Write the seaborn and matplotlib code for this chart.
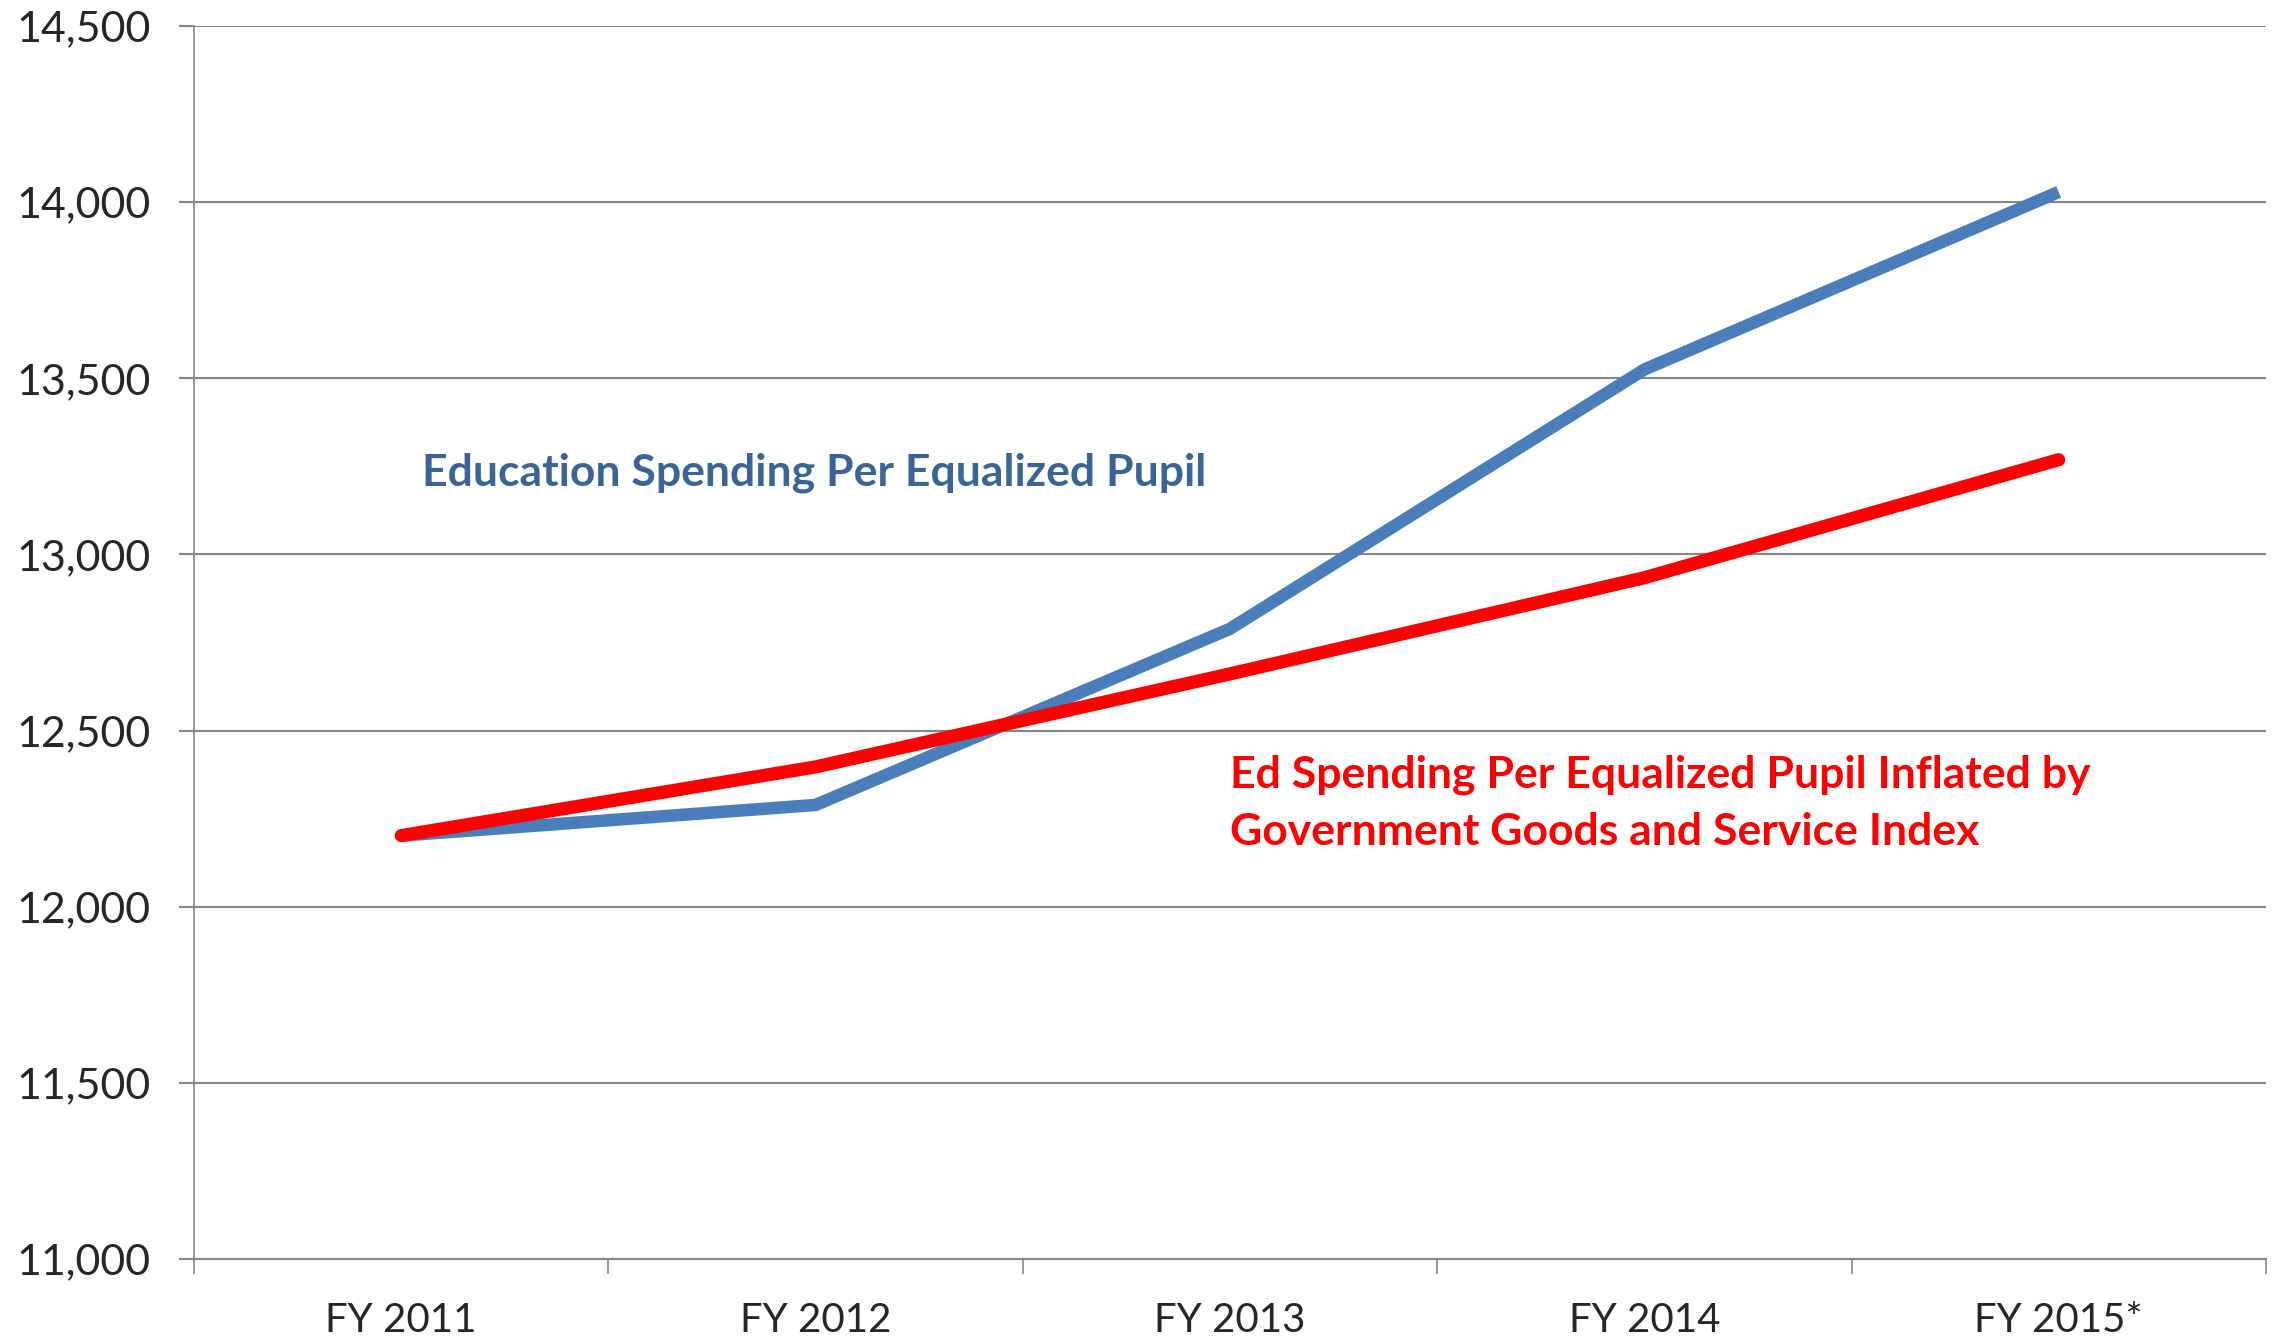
import pandas as pd
import matplotlib.pyplot as plt
import matplotlib.ticker as mticker
import seaborn as sns

years = ["FY 2011", "FY 2012", "FY 2013", "FY 2014", "FY 2015*"]
ed_spending = [12202, 12289, 12789, 13525, 14029]
ed_inflated = [12202, 12397, 12661, 12934, 13269]

y_ticks = [11000, 11500, 12000, 12500, 13000, 13500, 14000, 14500]

blue = "#4A7EBB"
red = "#FF0000"
grid_gray = "#868686"

sns.set_style("white")
plt.rcParams["font.family"] = ["Lato", "DejaVu Sans"]

df = pd.DataFrame({"year": years, "ed": ed_spending, "infl": ed_inflated})

fig = plt.figure(figsize=(22.83, 13.42), dpi=100)
ax = fig.add_axes([0.085, 0.0618, 0.9075, 0.9188])

sns.lineplot(data=df, x="year", y="ed", color=blue, lw=9, ax=ax,
             sort=False, solid_capstyle="butt", solid_joinstyle="miter")
sns.lineplot(data=df, x="year", y="infl", color=red, lw=9.5, ax=ax,
             sort=False, solid_capstyle="round", solid_joinstyle="miter")

ax.set_xlim(-0.5, len(years) - 0.5)
ax.set_ylim(y_ticks[0], y_ticks[-1])
ax.set_yticks(y_ticks)
ax.yaxis.set_major_formatter(mticker.FuncFormatter(lambda v, p: f"{int(v):,}"))
ax.grid(axis="y", color=grid_gray, lw=1.5)
ax.set_axisbelow(True)

# category ticks without marks, boundary marks as minor ticks
ax.set_xticks(range(len(years)))
ax.set_xticklabels(years)
ax.set_xticks([i - 0.5 for i in range(len(years) + 1)], minor=True)
ax.tick_params(axis="x", which="major", length=0, pad=31, labelsize=29)
ax.tick_params(axis="x", which="minor", length=11, width=1.2, color=grid_gray,
               direction="out", bottom=True)
ax.tick_params(axis="y", length=11, width=1.5, color=grid_gray, direction="out",
               left=True, pad=20, labelsize=31)

for s in ["top", "right"]:
    ax.spines[s].set_visible(False)
ax.spines["left"].set_color(grid_gray)
ax.spines["left"].set_linewidth(1.2)
ax.spines["bottom"].set_color(grid_gray)
ax.spines["bottom"].set_linewidth(1.5)
ax.set_xlabel("")
ax.set_ylabel("")

ax.text(0.05, 13231, "Education Spending Per Equalized Pupil", color="#3A6496",
        fontsize=32, fontweight="bold", ha="left", va="center")
ax.text(2.0, 12294, "Ed Spending Per Equalized Pupil Inflated by\nGovernment Goods and Service Index",
        color=red, fontsize=32, fontweight="bold", ha="left", va="center",
        linespacing=1.5)

fig.savefig("out.png", dpi=100)
plt.close(fig)
